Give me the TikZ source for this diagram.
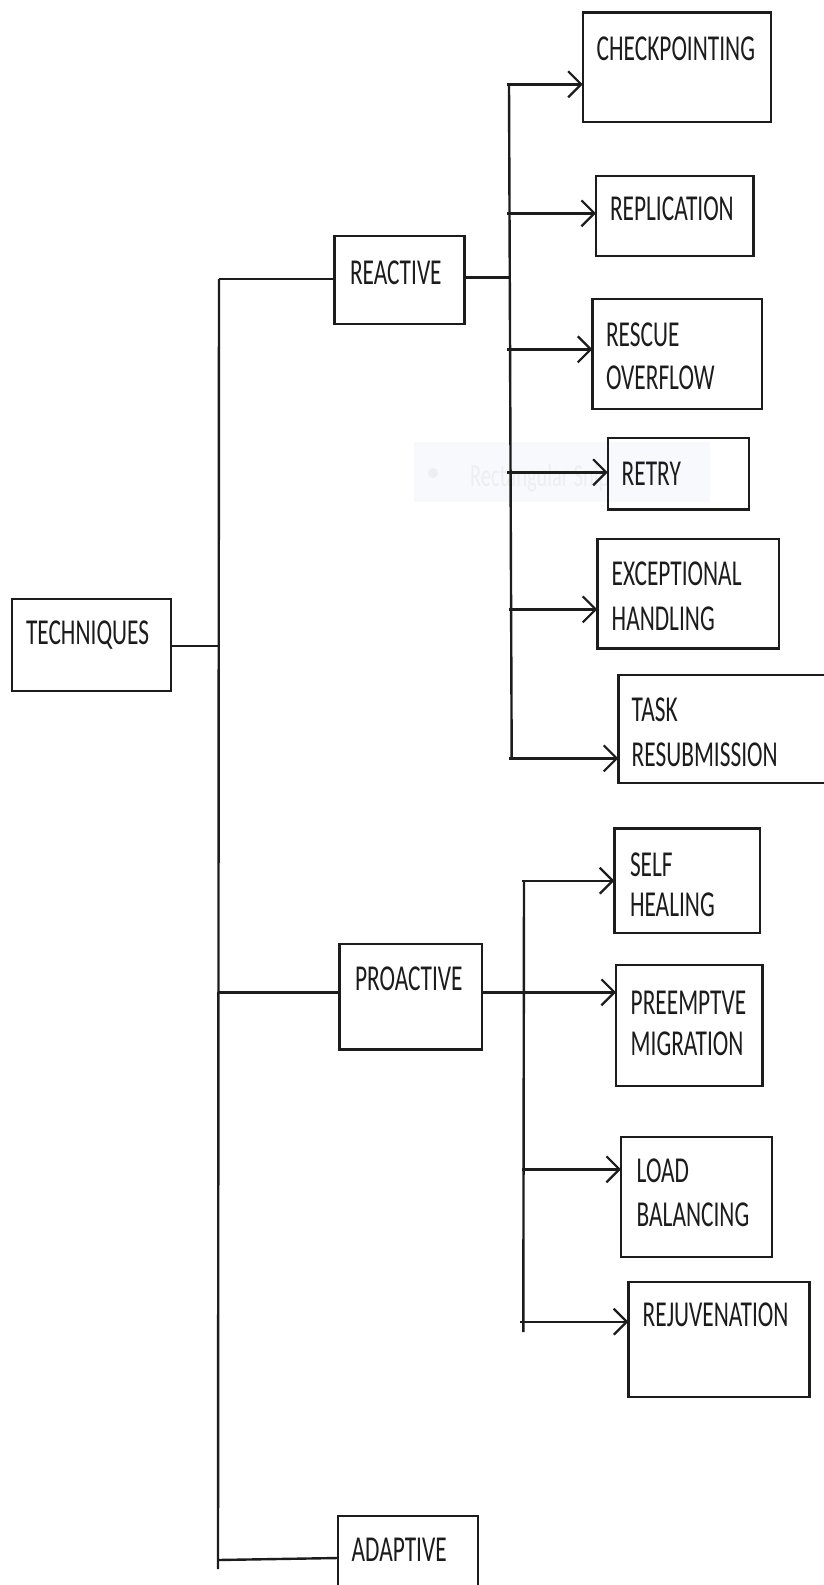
\documentclass[tikz,border=0pt]{standalone}
\usepackage{fontspec}
\setmainfont{Carlito}[FakeStretch=0.64]
\usetikzlibrary{arrows.meta}
\definecolor{ink}{HTML}{1C1C1C}
\definecolor{ghostfill}{HTML}{F7F9FC}
\definecolor{ghosttext}{HTML}{ECEEF2}
\tikzset{
  boxnode/.style={draw=ink, line width=2.4pt, rectangle, inner sep=0pt, outer sep=0pt},
  lbl/.style={anchor=base west, inner sep=0pt, outer sep=0pt, text=ink,
              font=\fontsize{36.5}{43}\selectfont},
  conn/.style={draw=ink, line width=2.4pt},
  arr/.style={draw=ink, line width=2.4pt, -{Straight Barb[length=13pt,width=26pt,line width=2.2pt]}},
}
\begin{document}
\begin{tikzpicture}[x=1pt,y=-1pt]
\useasboundingbox (0,0) rectangle (824,1585);
\clip (0,0) rectangle (824,1585);
\fill[white] (0,0) rectangle (824,1585);

% faint ghost tooltip
\node[fill=ghostfill, inner sep=0pt, minimum width=296pt, minimum height=60pt] (ghost) at (562,471.7) {};
\node[circle, fill=ghosttext, inner sep=0pt, minimum size=10pt] (ghostdot) at (433,473) {};
\node[anchor=base west, inner sep=0pt, text=ghosttext, font=\fontsize{32}{36}\selectfont] (ghosttxt) at (470,486) {Rectangular Snip};

% boxes
\node[boxnode, minimum width=159pt, minimum height=92pt] (tech) at (91.2,645) {};
\node[boxnode, minimum width=130pt, minimum height=88.3pt] (reactive) at (399.3,279.85) {};
\node[boxnode, minimum width=142.4pt, minimum height=105.3pt] (proactive) at (410.5,996.65) {};
\node[boxnode, minimum width=140pt, minimum height=100pt] (adaptive) at (407.7,1565.7) {};
\node[boxnode, minimum width=188pt, minimum height=109.4pt] (check) at (676.7,67) {};
\node[boxnode, minimum width=157.3pt, minimum height=80pt] (repl) at (674.65,215.7) {};
\node[boxnode, minimum width=169.7pt, minimum height=110pt] (rescue) at (677.15,354) {};
\node[boxnode, minimum width=141.3pt, minimum height=71.6pt] (retry) at (678.35,473.5) {};
\node[boxnode, minimum width=181.7pt, minimum height=109.3pt] (exc) at (688.15,593.65) {};
\node[boxnode, minimum width=221.7pt, minimum height=107.7pt] (task) at (729.15,728.85) {};
\node[boxnode, minimum width=145.7pt, minimum height=104.4pt] (self) at (687.15,880.5) {};
\node[boxnode, minimum width=146.3pt, minimum height=120.7pt] (preempt) at (689.15,1025.35) {};
\node[boxnode, minimum width=150.7pt, minimum height=120pt] (load) at (696.35,1196.7) {};
\node[boxnode, minimum width=181pt, minimum height=115pt] (rejuv) at (718.8,1339.2) {};

% labels (one node per printed line)
\node[lbl] (ttech) at (26,644) {TECHNIQUES};
\node[lbl] (treactive) at (350,284) {REACTIVE};
\node[lbl] (tproactive) at (355,990.7) {PROACTIVE};
\node[lbl] (tadaptive) at (351.7,1561.7) {ADAPTIVE};
\node[lbl] (tcheck) at (596.7,60) {CHECKPOINTING};
\node[lbl] (trepl) at (610,220.7) {REPLICATION};
\node[lbl] (trescueA) at (606,346.7) {RESCUE};
\node[lbl] (trescueB) at (606,389.3) {OVERFLOW};
\node[lbl] (tretry) at (621.7,485) {RETRY};
\node[lbl] (texcA) at (611.7,585) {EXCEPTIONAL};
\node[lbl] (texcB) at (611.7,630) {HANDLING};
\node[lbl] (ttaskA) at (631.7,721.7) {TASK};
\node[lbl] (ttaskB) at (631.7,766.7) {RESUBMISSION};
\node[lbl] (tselfA) at (630,876.7) {SELF};
\node[lbl] (tselfB) at (630,916.7) {HEALING};
\node[lbl] (tpreemptA) at (630.7,1014.3) {PREEMPTVE};
\node[lbl] (tpreemptB) at (630.7,1055) {MIGRATION};
\node[lbl] (tloadA) at (636.7,1182.7) {LOAD};
\node[lbl] (tloadB) at (636.7,1226) {BALANCING};
\node[lbl] (trejuv) at (642.7,1326) {REJUVENATION};

% main spine
\coordinate (spTop) at (219,279);
\coordinate (spBot) at (218,1569);
\coordinate (spPro) at (219,992.3);
\coordinate (spAda) at (218,1560);
\draw[conn] (spTop) -- (spBot);
\draw[conn] (tech.east |- 0,645.7) -- (219,645.7);
\draw[conn] (spTop) -- (spTop -| reactive.west);
\draw[conn] (spPro) -- (spPro -| proactive.west);
\draw[conn] (spAda) -- (adaptive.west |- 0,1558);

% reactive branch
\coordinate (rTop) at (509,84.3);
\coordinate (rBot) at (511.7,758.3);
\coordinate (rJoin) at (509.5,277.3);
\draw[conn] (rTop) -- (rBot);
\draw[conn] (reactive.east |- rJoin) -- (rJoin);
\coordinate (r1) at (507,84.3);
\coordinate (r2) at (507,213.3);
\coordinate (r3) at (507,349.3);
\coordinate (r4) at (507,472.3);
\coordinate (r5) at (509,609.3);
\coordinate (r6) at (509,758.3);
\draw[arr] (r1) -- (r1 -| check.west);
\draw[arr] (r2) -- (r2 -| repl.west);
\draw[arr] (r3) -- (r3 -| rescue.west);
\draw[arr] (r4) -- (r4 -| retry.west);
\draw[arr] (r5) -- (r5 -| exc.west);
\draw[arr] (r6) -- (r6 -| task.west);

% proactive branch
\coordinate (pTop) at (524,880.7);
\coordinate (pBot) at (523.3,1332);
\coordinate (pJoin) at (524,992.3);
\draw[conn] (pTop) -- (pBot);
\coordinate (p1) at (521.7,880.7);
\coordinate (p3) at (522,1169.3);
\coordinate (p4) at (520,1321.7);
\draw[arr] (p1) -- (p1 -| self.west);
\draw[arr] (pJoin -| proactive.east) -- (pJoin -| preempt.west);
\draw[arr] (p3) -- (p3 -| load.west);
\draw[arr] (p4) -- (p4 -| rejuv.west);
\end{tikzpicture}
\end{document}
